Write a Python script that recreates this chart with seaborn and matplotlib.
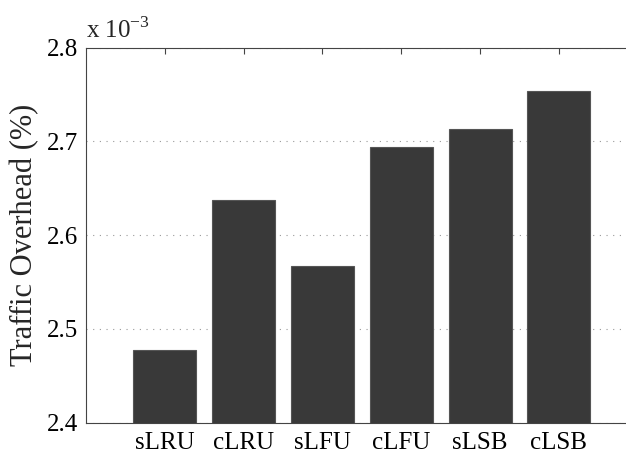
import matplotlib
matplotlib.use("Agg")
import matplotlib.pyplot as plt
import numpy as np
import pandas as pd
import seaborn as sns

# policies and measured traffic overhead (%)
policies = ['sLRU', 'cLRU', 'sLFU', 'cLFU', 'sLSB', 'cLSB']
overhead = [2.477e-3, 2.637e-3, 2.567e-3, 2.694e-3, 2.713e-3, 2.754e-3]
y_ticks = [2.4, 2.5, 2.6, 2.7, 2.8]

df = pd.DataFrame({'policy': policies, 'overhead': np.array(overhead) * 1e3})

sns.set_style('white')
plt.rcParams['font.family'] = ['Liberation Serif', 'DejaVu Serif']
plt.rcParams['mathtext.fontset'] = 'custom'
plt.rcParams['mathtext.rm'] = 'Liberation Serif'

fig = plt.figure(figsize=(6.26, 4.53), dpi=100)
ax = fig.add_axes([0.1374, 0.0669, 0.8814, 0.8282])

sns.barplot(data=df, x='policy', y='overhead', color='#393939', saturation=1,
            width=0.8, edgecolor='#555555', linewidth=0.8, ax=ax)

ax.set_xlim(-1, 6)
ax.set_ylim(2.4, 2.8)
ax.set_yticks(y_ticks)
ax.set_yticklabels([f'{t:.1f}' for t in y_ticks])
ax.set_xlabel('')
ax.set_ylabel('Traffic Overhead (%)', fontsize=22, labelpad=5)

ax.yaxis.grid(True, linestyle=(0, (1, 5)), color='#999999', linewidth=0.8)
ax.set_axisbelow(True)

for s in ['left', 'bottom', 'top']:
    ax.spines[s].set_color('#444444')
    ax.spines[s].set_linewidth(0.8)
ax.spines['right'].set_visible(False)

ax.tick_params(axis='both', direction='in', labelsize=18, colors='#444444',
               labelcolor='black', length=4, width=0.8)
ax.tick_params(axis='x', top=True, pad=7)
ax.tick_params(axis='y', pad=6)

ax.text(0.0, 1.012, r'x 10$^{-3}$', transform=ax.transAxes, fontsize=18,
        ha='left', va='bottom')

fig.savefig('out.png', dpi=100)
